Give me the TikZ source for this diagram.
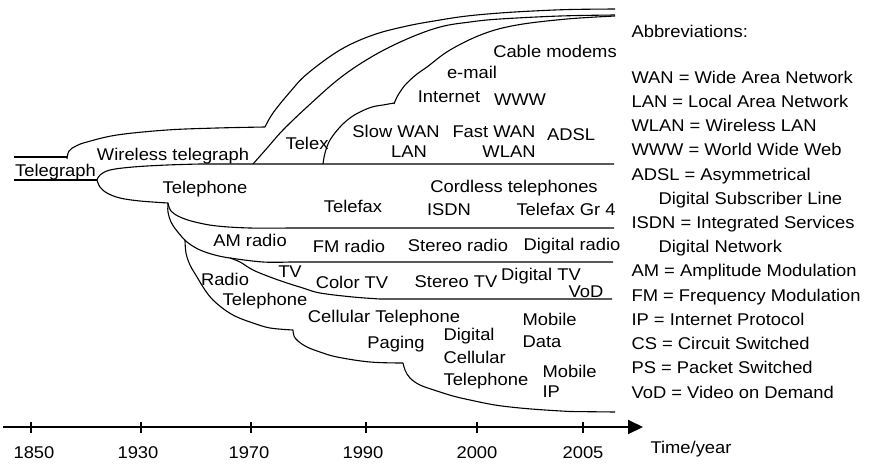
\documentclass[tikz,border=0pt]{standalone}
\usepackage{fontspec}
\setmainfont{Liberation Sans}[FakeStretch=1.08]
\usetikzlibrary{arrows.meta}
\begin{document}
\begin{tikzpicture}[x=1pt,y=-1pt,line width=1.1pt,line join=round,
  lbl/.style={inner sep=0pt,font=\fontsize{17}{20}\selectfont,anchor=base},
  lbll/.style={lbl,anchor=base west},
  sm/.style={smooth,tension=0.6}]
\useasboundingbox (0,0) rectangle (873,464);
% ---- telegraph
\draw (14,157) -- (67,157);
\draw (14,180) -- (97,180);
\draw plot[sm] coordinates {(67,159) (69,151) (76,146) (87,142) (117,135) (167,130) (217,128) (265,127)};
\draw plot[sm] coordinates {(265,127) (273,113) (290,92) (307,74) (340,50) (373,35) (407,26) (440,20) (467,16) (500,13) (533,11) (570,9.5) (615,9)};
\draw plot[sm] coordinates {(253,164) (268,147) (283,130) (307,107) (340,78) (373,56) (407,39) (440,27) (470,22) (500,19) (560,16) (615,15)};
\draw plot[sm] coordinates {(323,164) (325,153) (330,140) (340,127) (350,118) (360,112) (372,107) (383,105) (394,103)};
\draw plot[sm] coordinates {(394,104) (397,97) (402,89) (407,83) (417,74) (427,67) (450,50) (483,34) (517,25) (567,19) (615,16)};
% ---- telephone
\draw plot[sm] coordinates {(97,180) (100,175) (110,170) (133,167) (167,165) (200,164)} -- (614,164);
\draw plot[sm] coordinates {(97,180) (100,187) (107,193) (120,198) (140,201) (168,203)};
\draw plot[sm] coordinates {(168,203) (171,211) (180,217) (195,222) (217,226) (250,228) (290,228)} -- (614,228);
\draw plot[sm] coordinates {(168,203) (168,212) (171,222) (177,231) (187,242) (200,250) (215,255) (230,258) (263,262) (290,262)} -- (613,262);
\draw plot[sm] coordinates {(230,258) (240,262) (253,270) (270,277) (287,283) (303,288) (320,293) (353,297) (380,299)} -- (612,299);
\draw plot[sm] coordinates {(185,240) (186,253) (190,265) (197,277) (205,290) (213,300) (225,310) (237,317) (253,323) (270,328) (293,330)};
\draw plot[sm] coordinates {(293,330) (294,336) (298,341) (307,347) (320,352) (337,357) (370,362) (403,363)};
\draw plot[sm] coordinates {(403,363) (405,370) (410,378) (420,385) (437,391) (453,396) (470,400) (495,405) (520,408) (545,410) (570,411.5)} -- (615,412);
% ---- axis
\draw[line width=2pt,-{Triangle[length=15pt,width=14pt]}] (3,427) -- (643,427);
\foreach \x in {31,141,251,366,477,583} \draw[line width=1.2pt] (\x,422) -- (\x,433);
\node[lbl] (y1850) at (34,458) {1850};
\node[lbl] (y1930) at (138,458) {1930};
\node[lbl] (y1970) at (249,458) {1970};
\node[lbl] (y1990) at (363,458) {1990};
\node[lbl] (y2000) at (477,458) {2000};
\node[lbl] (y2005) at (583,458) {2005};
\node[lbll] (time) at (650,453) {Time/year};
% ---- labels
\node[lbl] (telegraph) at (55.5,176) {Telegraph};
\node[lbl] (wireless) at (173,160) {Wireless telegraph};
\node[lbl] (telex) at (307,149) {Telex};
\node[lbl] (slowwan) at (396,137) {Slow WAN};
\node[lbl] (lan) at (409,157) {LAN};
\node[lbl] (fastwan) at (494,137) {Fast WAN};
\node[lbl] (wlan) at (509,157) {WLAN};
\node[lbl] (adsl) at (571,140) {ADSL};
\node[lbl] (internet) at (449,102) {Internet};
\node[lbl] (www) at (520,105) {WWW};
\node[lbl] (email) at (472,78) {e-mail};
\node[lbl] (cable) at (555,57) {Cable modems};
\node[lbl] (telephone) at (205,193) {Telephone};
\node[lbl] (telefax) at (353,212) {Telefax};
\node[lbl] (cordless) at (514,192) {Cordless telephones};
\node[lbl] (isdn) at (449,215) {ISDN};
\node[lbl] (telefax4) at (566,215) {Telefax Gr 4};
\node[lbl] (am) at (250,246) {AM radio};
\node[lbl] (fm) at (349,252) {FM radio};
\node[lbl] (stereor) at (458,251) {Stereo radio};
\node[lbl] (digr) at (572,250) {Digital radio};
\node[lbl] (tv) at (290,277) {TV};
\node[lbl] (colortv) at (352,288) {Color TV};
\node[lbl] (stereotv) at (456,287) {Stereo TV};
\node[lbl] (digtv) at (541,280) {Digital TV};
\node[lbl] (vod) at (586,297) {VoD};
\node[lbl] (radio) at (225,285) {Radio};
\node[lbl] (radiotel) at (265,305) {Telephone};
\node[lbl] (cell) at (384,322) {Cellular Telephone};
\node[lbl] (paging) at (396,348) {Paging};
\node[lbll] (dc1) at (443,340) {Digital};
\node[lbll] (dc2) at (443,363) {Cellular};
\node[lbll] (dc3) at (443,385) {Telephone};
\node[lbll] (md1) at (522,325) {Mobile};
\node[lbll] (md2) at (522,347) {Data};
\node[lbll] (mi1) at (542,377) {Mobile};
\node[lbll] (mi2) at (542,397) {IP};
% ---- abbreviations
\node[lbll] (abbr) at (631,37) {Abbreviations:};
\node[lbll] (a1) at (631,83) {WAN = Wide Area Network};
\node[lbll] (a2) at (631,107.2) {LAN = Local Area Network};
\node[lbll] (a3) at (631,131.5) {WLAN = Wireless LAN};
\node[lbll] (a4) at (631,155.7) {WWW = World Wide Web};
\node[lbll] (a5) at (631,180) {ADSL = Asymmetrical};
\node[lbll] (a6) at (658,204.2) {Digital Subscriber Line};
\node[lbll] (a7) at (631,228.4) {ISDN = Integrated Services};
\node[lbll] (a8) at (658,252.6) {Digital Network};
\node[lbll] (a9) at (631,276.9) {AM = Amplitude Modulation};
\node[lbll] (a10) at (631,301.1) {FM = Frequency Modulation};
\node[lbll] (a11) at (631,325.3) {IP = Internet Protocol};
\node[lbll] (a12) at (631,349.6) {CS = Circuit Switched};
\node[lbll] (a13) at (631,373.8) {PS = Packet Switched};
\node[lbll] (a14) at (631,398) {VoD = Video on Demand};
\end{tikzpicture}
\end{document}
